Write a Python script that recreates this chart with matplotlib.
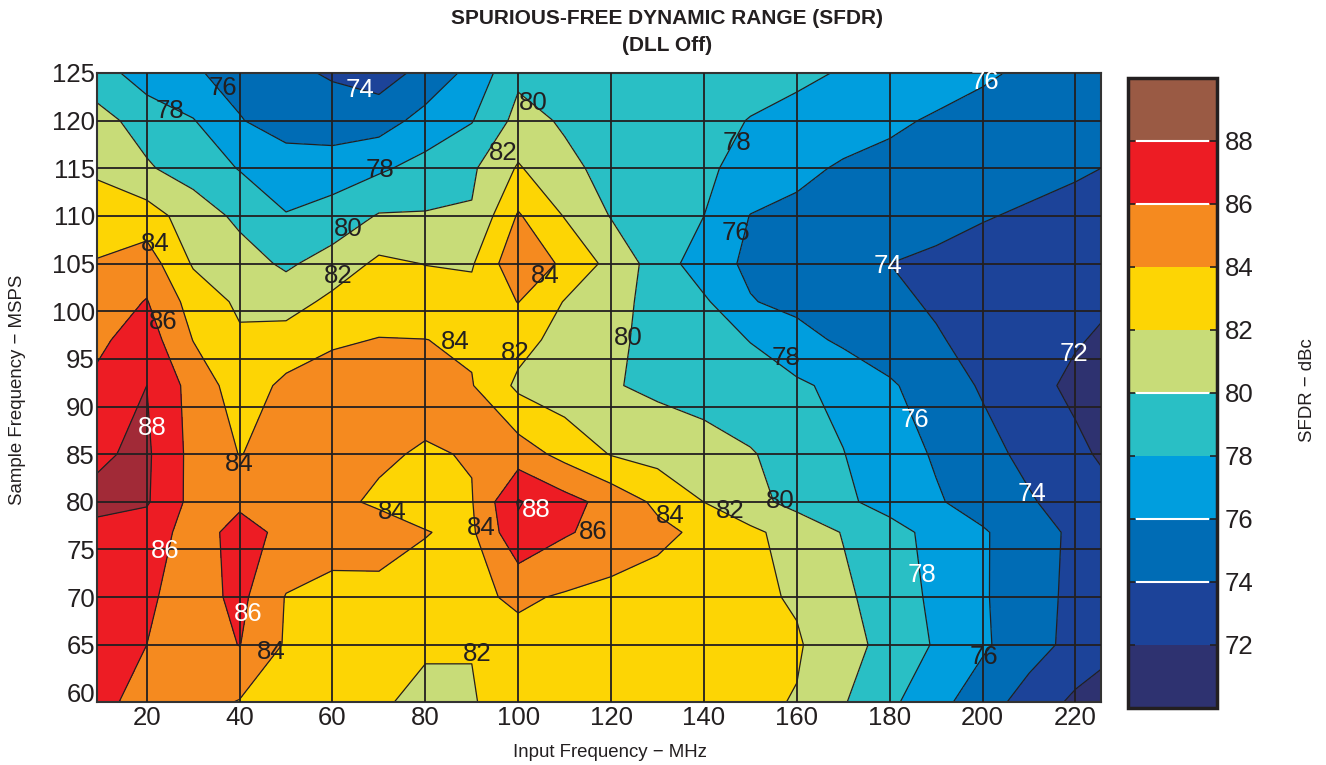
import numpy as np
import matplotlib
matplotlib.use("Agg")
import matplotlib.pyplot as plt
from matplotlib.colors import ListedColormap, BoundaryNorm
import matplotlib.cm as cm

plt.rcParams['font.family'] = ['Liberation Sans', 'DejaVu Sans']

# Input frequency (MHz) columns and sample frequency (MSPS) rows
fin = [9.3, 20, 30, 40, 50, 60, 70, 80, 90, 100, 110, 120, 130, 140, 150,
       160, 170, 180, 190, 200, 210, 220, 225.5]
fs = [59, 65, 70, 76.8, 80, 85, 92.2, 97, 101, 105, 110, 115, 120, 125]

# SFDR (dBc), one row per sample frequency
sfdr = [
    [86.4, 85.5, 84.7, 83.9, 83.3, 82.7, 82.2, 81.6, 81.9, 82.7, 83.0, 83.0, 82.8, 82.6, 82.35, 81.9, 80.15, 78.4, 76.65, 74.9, 73.2, 71.6, 71.2],
    [86.9, 86.0, 85.0, 86.05, 83.8, 83.1, 82.6, 82.2, 82.05, 83.4, 83.3, 83.2, 83.0, 82.8, 82.5, 82.2, 80.8, 79.3, 77.8, 76.3, 74.8, 73.4, 72.6],
    [87.0, 86.3, 85.1, 86.5, 83.9, 83.3, 83.6, 83.5, 83.6, 84.3, 83.8, 83.4, 83.1, 82.8, 82.4, 81.8, 80.4, 79.0, 77.6, 76.2, 74.85, 73.5, 73.1],
    [87.7, 87.0, 85.2, 86.6, 85.6, 85.0, 84.6, 84.05, 83.7, 87.6, 86.2, 85.3, 84.5, 83.55, 82.4, 81.2, 79.9, 78.7, 77.4, 76.2, 74.9, 73.6, 73.2],
    [88.3, 88.2, 85.4, 85.7, 84.9, 84.3, 83.8, 83.5, 83.9, 88.15, 86.7, 85.3, 83.6, 81.98, 80.6, 79.4, 78.35, 77.3, 76.2, 75.2, 74.2, 73.1, 72.6],
    [87.8, 88.3, 85.4, 83.95, 84.6, 84.6, 84.2, 83.85, 84.1, 85.0, 83.4, 81.9, 81.3, 80.8, 80.15, 79.15, 78.05, 76.9, 75.8, 74.65, 73.5, 72.4, 71.8],
    [86.4, 88.0, 85.26, 83.0, 84.4, 84.7, 84.8, 84.6, 84.1, 81.6, 80.8, 80.15, 79.6, 79.2, 78.7, 78.3, 77.5, 76.25, 75.0, 73.8, 72.6, 71.6, 71.3],
    [85.6, 87.0, 83.95, 82.3, 82.9, 83.8, 84.05, 84.02, 83.75, 82.7, 81.3, 80.35, 79.5, 78.7, 77.95, 76.7, 75.65, 74.9, 74.15, 73.45, 72.8, 72.15, 71.8],
    [84.9, 86.1, 83.2, 81.65, 81.1, 82.5, 83.3, 83.0, 82.7, 84.05, 81.9, 80.6, 79.4, 78.3, 76.1, 75.5, 74.9, 74.35, 73.8, 73.4, 72.95, 72.5, 72.25],
    [84.13, 85.0, 81.8, 80.8, 79.7, 80.8, 82.4, 81.95, 81.8, 85.6, 83.6, 81.4, 79.1, 76.85, 75.65, 75.1, 74.55, 74.0, 73.7, 73.4, 73.1, 72.85, 72.7],
    [82.95, 82.9, 81.0, 79.6, 78.1, 78.8, 80.15, 80.15, 80.15, 84.2, 81.9, 79.9, 79.0, 78.0, 75.94, 75.6, 75.2, 74.8, 74.5, 74.1, 73.8, 73.5, 73.4],
    [81.7, 80.2, 79.2, 77.9, 76.9, 77.0, 77.7, 78.7, 79.7, 82.2, 80.4, 79.5, 78.9, 78.3, 77.4, 76.4, 75.8, 75.5, 75.2, 74.8, 74.5, 74.2, 74.0],
    [80.6, 79.3, 78.1, 76.1, 75.2, 74.9, 75.1, 76.7, 77.9, 80.6, 79.8, 79.3, 78.9, 78.4, 77.95, 77.4, 76.8, 76.3, 75.8, 75.4, 75.0, 74.7, 74.6],
    [79.0, 76.9, 76.2, 75.4, 74.4, 73.8, 73.1, 74.6, 76.6, 79.6, 79.4, 79.2, 79.0, 78.8, 78.5, 78.4, 77.85, 77.3, 76.8, 76.25, 75.7, 75.2, 75.0],
]

levels = [70, 72, 74, 76, 78, 80, 82, 84, 86, 88, 90]
bar_ticks = [72, 74, 76, 78, 80, 82, 84, 86, 88]

plot_colors = ['#2e3270', '#1c4399', '#006cb5', '#009ede', '#29bfc5',
               '#c8dc78', '#fdd504', '#f58a1f', '#ed1c24', '#a12a37']
bar_colors = plot_colors[:-1] + ['#9a5a44']

# contour labels: (input MHz, sample MSPS, text, colour)
labels = [
    (36.5, 123.4, '76', 'k'), (66, 123.2, '74', 'w'), (25, 121, '78', 'k'),
    (70.3, 114.8, '78', 'k'), (63.4, 108.6, '80', 'k'), (61.2, 103.7, '82', 'k'),
    (21.8, 107.1, '84', 'k'), (23.5, 98.9, '86', 'k'), (21.2, 87.7, '88', 'w'),
    (40, 84, '84', 'k'), (23.9, 74.8, '86', 'w'), (41.9, 68.2, '86', 'w'),
    (46.8, 64.2, '84', 'k'), (72.8, 78.9, '84', 'k'), (86.4, 96.8, '84', 'k'),
    (103.2, 121.9, '80', 'k'), (96.8, 116.6, '82', 'k'), (105.9, 103.7, '84', 'k'),
    (99.4, 95.6, '82', 'k'), (123.7, 97.2, '80', 'k'), (92, 77.3, '84', 'k'),
    (103.9, 79.1, '88', 'w'), (116.2, 76.8, '86', 'k'), (132.8, 78.5, '84', 'k'),
    (145.7, 79.0, '82', 'k'), (156.5, 80.1, '80', 'k'), (91.2, 64.0, '82', 'k'),
    (147.2, 117.7, '78', 'k'), (146.8, 108.2, '76', 'k'), (179.7, 104.7, '74', 'w'),
    (157.7, 95.1, '78', 'k'), (200.6, 124.1, '76', 'w'), (219.6, 95.5, '72', 'w'),
    (185.5, 88.6, '76', 'w'), (210.6, 80.8, '74', 'w'), (187, 72.3, '78', 'w'),
    (200.2, 63.7, '76', 'k'),
]

ink = '#231f20'

fig = plt.figure(figsize=(13.26, 7.65), dpi=100)
ax = fig.add_axes([0.0732, 0.0824, 0.7571, 0.8222])

Z = np.array(sfdr)
ax.contourf(fin, fs, Z, levels=levels, colors=plot_colors)
ax.contour(fin, fs, Z, levels=levels, colors=ink, linewidths=0.9)

for v in range(20, 221, 20):
    ax.axvline(v, color=ink, lw=1.3, zorder=3)
for v in range(65, 121, 5):
    ax.axhline(v, color=ink, lw=1.3, zorder=3)

for x, y, t, c in labels:
    ax.text(x, y, t, color='white' if c == 'w' else ink, fontsize=18.5,
            ha='center', va='center', zorder=4)

ax.set_xlim(9.3, 225.5)
ax.set_ylim(59, 125)
ax.set_xticks(range(20, 221, 20))
ax.set_yticks(range(60, 126, 5))
ax.tick_params(length=0, labelsize=18.5, colors=ink)
ax.tick_params(axis='y', pad=1.5)
ax.tick_params(axis='x', pad=3)
for s in ax.spines.values():
    s.set_color('#333333')
    s.set_linewidth(1.5)

# colour bar
cax = fig.add_axes([0.8505, 0.0749, 0.0671, 0.8235])
norm = BoundaryNorm(levels, len(bar_colors))
sm = cm.ScalarMappable(norm=norm, cmap=ListedColormap(bar_colors))
cb = fig.colorbar(sm, cax=cax, ticks=bar_ticks)
cb.outline.set_linewidth(2.5)
cb.outline.set_edgecolor(ink)
cax.minorticks_off()
cax.tick_params(direction='in', length=5, width=1.2, colors=ink,
                labelsize=18.5, left=True, right=True, pad=6)
for v in [74, 76, 80, 86, 88]:
    cax.axhline(v, xmin=0.1, xmax=0.9, color='white', lw=1.5)

fig.text(0.503, 0.976, 'SPURIOUS-FREE DYNAMIC RANGE (SFDR)', ha='center',
         va='center', fontsize=15, fontweight='bold', color=ink)
fig.text(0.503, 0.941, '(DLL Off)', ha='center', va='center', fontsize=15,
         fontweight='bold', color=ink)
fig.text(0.46, 0.016, 'Input Frequency \u2212 MHz', ha='center', va='center',
         fontsize=13.4, color=ink)
fig.text(0.013, 0.49, 'Sample Frequency \u2212 MSPS', ha='center', va='center',
         rotation=90, fontsize=13.4, color=ink)
fig.text(0.986, 0.49, 'SFDR \u2212 dBc', ha='center', va='center',
         rotation=90, fontsize=13.4, color=ink)

fig.savefig('out.png', dpi=100)
